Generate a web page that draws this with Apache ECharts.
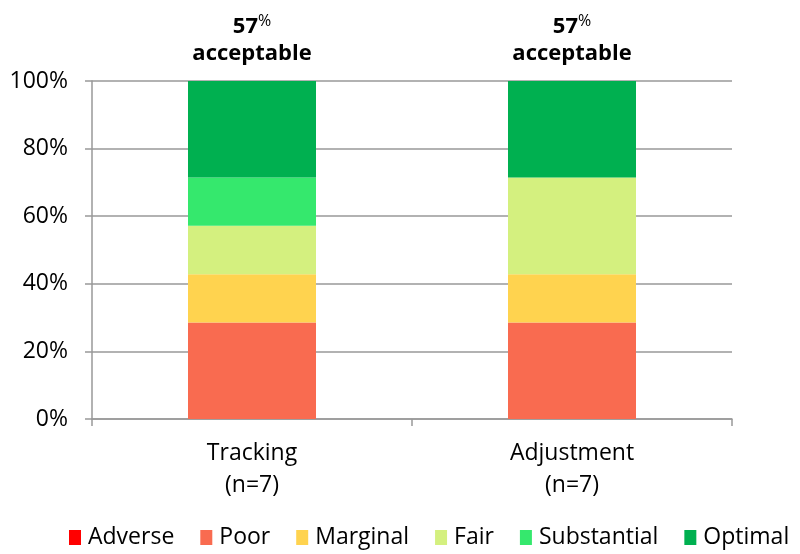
<!DOCTYPE html>
<html><head><meta charset="utf-8">
<script src="https://cdn.jsdelivr.net/npm/echarts@6/dist/echarts.min.js"></script>
<style>html,body{margin:0;padding:0;background:#fff}#c{width:800px;height:554px}</style>
</head><body><div id="c"></div>
<script>
const categories = ['Tracking', 'Adjustment'];
const sampleSize = [7, 7];
const levels = ['Adverse', 'Poor', 'Marginal', 'Fair', 'Substantial', 'Optimal'];
const adverse = [0, 0];
const poor = [2, 2];
const marginal = [1, 1];
const fair = [1, 2];
const substantial = [1, 0];
const optimal = [2, 2];
const yTicks = [0, 20, 40, 60, 80, 100];
const colors = ['#FF0000', '#F96B50', '#FFD34F', '#D4F07F', '#35E86D', '#00B050'];

const counts = [adverse, poor, marginal, fair, substantial, optimal];
const acceptable = categories.map((c, i) => Math.round((fair[i] + substantial[i] + optimal[i]) / sampleSize[i] * 100));
const FONT = '"Open Sans", Lato, sans-serif';

const series = levels.map((name, k) => ({
  name, type: 'bar', stack: 'total', barWidth: '40%',
  itemStyle: { color: colors[k] },
  data: counts[k].map((v, i) => v / sampleSize[i] * 100),
  label: k === levels.length - 1 ? {
    show: true, position: 'top', distance: 14,
    formatter: p => '{n|' + acceptable[p.dataIndex] + '}{p|%}\n{a|acceptable}',
    rich: {
      n: { fontFamily: FONT, fontWeight: 'bold', fontSize: 22, color: '#000', lineHeight: 27 },
      p: { fontFamily: FONT, fontWeight: 'normal', fontSize: 16, color: '#000', lineHeight: 27, verticalAlign: 'top' },
      a: { fontFamily: FONT, fontWeight: 'bold', fontSize: 22, color: '#000', lineHeight: 27 }
    }
  } : { show: false }
}));

const chart = echarts.init(document.getElementById('c'));
chart.setOption({
  animation: false,
  textStyle: { fontFamily: FONT },
  grid: { left: 92, right: 68, top: 81, bottom: 135, containLabel: false },
  legend: {
    top: 526, left: 69, width: 760, padding: 0, itemWidth: 12, itemHeight: 15, itemGap: 26,
    icon: 'rect', data: levels,
    textStyle: { fontFamily: FONT, fontSize: 23, color: '#000', padding: [0, 0, 0, 2] }
  },
  xAxis: {
    type: 'category', data: categories,
    axisLine: { lineStyle: { color: '#999', width: 1.5 } },
    axisTick: { show: true, length: 7, alignWithLabel: false, lineStyle: { color: '#999', width: 1.5 } },
    axisLabel: {
      fontFamily: FONT, fontSize: 23, color: '#000', margin: 18, lineHeight: 32,
      formatter: (v, i) => v + '\n(n=' + sampleSize[i] + ')'
    }
  },
  yAxis: {
    type: 'value', min: 0, max: 100, interval: 20,
    axisLine: { show: true, lineStyle: { color: '#999', width: 1.5 } },
    axisTick: { show: true, length: 7, lineStyle: { color: '#999', width: 1.5 } },
    splitLine: { show: true, lineStyle: { color: '#999', width: 1.5 } },
    axisLabel: { fontFamily: FONT, fontSize: 23, color: '#000', margin: 24,
      formatter: v => yTicks.includes(v) ? v + '%' : '' }
  },
  series
});
</script></body></html>
